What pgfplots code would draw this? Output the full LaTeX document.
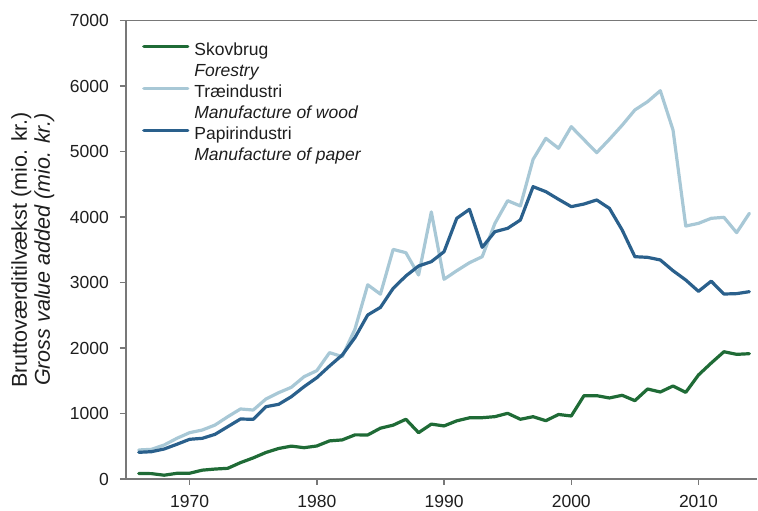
\documentclass[border=0pt]{standalone}
\usepackage{pgfplots}
\pgfplotsset{compat=1.18}
\usepackage{fontspec}
\setmainfont{Liberation Sans}
\definecolor{cgreen}{RGB}{31,107,54}
\definecolor{clight}{RGB}{168,200,214}
\definecolor{cdark}{RGB}{42,96,140}
\definecolor{cspine}{RGB}{120,120,120}
\definecolor{ctext}{RGB}{30,30,30}
\newcommand{\ff}{\fontsize{17.5}{21}\selectfont}
\begin{document}
\begin{tikzpicture}
\begin{axis}[
  at={(0,0)}, anchor=south west,
  scale only axis, width=631pt, height=458.5pt,
  xmin=1965, xmax=2014.6, ymin=0, ymax=7000,
  axis x line=box, axis y line=left,
  axis line style={-, cspine, line width=1.8pt},
  xtick={1970,1980,1990,2000,2010},
  ytick={0,1000,...,7000},
  xtick pos=left, ytick pos=left,
  tick align=outside, major tick length=6pt,
  tick style={cspine, line width=1.5pt},
  /pgf/number format/assume math mode=true,
  /pgf/number format/1000 sep={},
  ticklabel style={font=\ff, text=ctext},
  xticklabel style={inner sep=0pt, anchor=north, yshift=-10.5pt},
  yticklabel style={inner sep=0pt, anchor=east, xshift=-11pt},
  ylabel={Bruttoværditilvækst (mio. kr.)\\\textit{Gross value added (mio. kr.)}},
  ylabel style={at={(axis description cs:0,0.5)}, anchor=south, inner sep=0pt, rotate=0, yshift=71.5pt, align=center, font=\fontsize{21.5}{23}\selectfont, text=ctext},
  legend style={draw=none, fill=none, at={(axis description cs:0,1)}, anchor=north west, xshift=13pt, yshift=-20pt,
    font=\ff, text=ctext, nodes={inner sep=0pt, text height=13pt, text depth=4pt}, row sep=4pt},
  legend cell align=left,
  legend image code/.code={\draw[#1] (0pt,5pt) -- (44pt,5pt); \path (49pt,0pt);},
  every axis plot/.append style={line width=3.2pt, line join=round, line cap=round},
]
\addplot[cgreen] coordinates {
(1966,85)(1967,82)(1968,58)(1969,87)(1970,88)(1971,135)(1972,152)(1973,163)(1974,250)(1975,322)
(1976,405)(1977,466)(1978,502)(1979,478)(1980,504)(1981,582)(1982,597)(1983,674)(1984,672)(1985,776)
(1986,822)(1987,912)(1988,707)(1989,838)(1990,810)(1991,888)(1992,934)(1993,936)(1994,952)(1995,1003)
(1996,912)(1997,951)(1998,890)(1999,985)(2000,962)(2001,1272)(2002,1272)(2003,1237)(2004,1278)(2005,1196)
(2006,1374)(2007,1328)(2008,1420)(2009,1323)(2010,1588)(2011,1770)(2012,1943)(2013,1903)(2014,1913)};
\addlegendentry{Skovbrug}
\addlegendimage{empty legend}
\addlegendentry{\textit{Forestry}}
\addplot[clight] coordinates {
(1966,443)(1967,453)(1968,519)(1969,621)(1970,707)(1971,748)(1972,824)(1973,951)(1974,1069)(1975,1053)
(1976,1221)(1977,1318)(1978,1400)(1979,1562)(1980,1654)(1981,1929)(1982,1868)(1983,2290)(1984,2965)(1985,2822)
(1986,3505)(1987,3455)(1988,3114)(1989,4078)(1990,3049)(1991,3180)(1992,3302)(1993,3394)(1994,3903)(1995,4249)
(1996,4168)(1997,4880)(1998,5201)(1999,5049)(2000,5379)(2001,5180)(2002,4982)(2003,5186)(2004,5401)(2005,5634)
(2006,5761)(2007,5928)(2008,5328)(2009,3862)(2010,3903)(2011,3980)(2012,3995)(2013,3761)(2014,4056)};
\addlegendentry{Træindustri}
\addlegendimage{empty legend}
\addlegendentry{\textit{Manufacture of wood}}
\addplot[cdark] coordinates {
(1966,407)(1967,417)(1968,458)(1969,530)(1970,606)(1971,621)(1972,682)(1973,799)(1974,916)(1975,911)
(1976,1104)(1977,1140)(1978,1257)(1979,1410)(1980,1547)(1981,1725)(1982,1893)(1983,2160)(1984,2504)(1985,2620)
(1986,2910)(1987,3100)(1988,3252)(1989,3318)(1990,3470)(1991,3980)(1992,4117)(1993,3537)(1994,3776)(1995,3827)
(1996,3954)(1997,4463)(1998,4387)(1999,4270)(2000,4158)(2001,4198)(2002,4260)(2003,4132)(2004,3802)(2005,3394)
(2006,3384)(2007,3344)(2008,3180)(2009,3038)(2010,2865)(2011,3020)(2012,2824)(2013,2830)(2014,2860)};
\addlegendentry{Papirindustri}
\addlegendimage{empty legend}
\addlegendentry{\textit{Manufacture of paper}}
\end{axis}
\pgfresetboundingbox
\path (-126pt,-32pt) rectangle (632pt,479pt);
\end{tikzpicture}
\end{document}
